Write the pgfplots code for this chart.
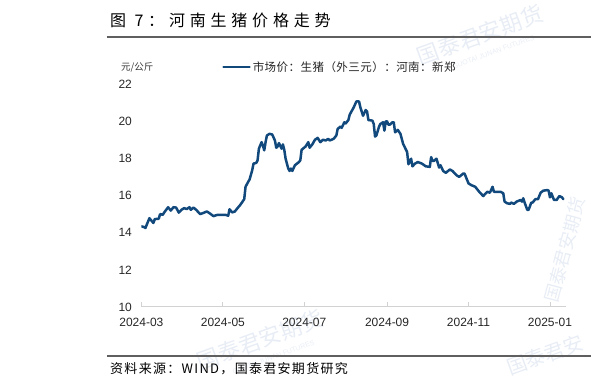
\documentclass[border=0pt]{standalone}
\usepackage{pgfplots}
\pgfplotsset{compat=1.18}
\usepackage{fontspec}
\setmainfont{Liberation Sans}
\newfontfamily\cjk{Noto Sans CJK SC}
\newfontfamily\cjktitle[LetterSpace=30]{Noto Sans CJK SC}
\newfontfamily\cjksrc[LetterSpace=10]{Noto Sans CJK SC}
\newfontfamily\cjkleg[LetterSpace=4]{Noto Sans CJK SC}
\definecolor{lineblue}{RGB}{18,73,125}
\definecolor{axisgray}{RGB}{210,210,210}
\definecolor{rulegray}{RGB}{95,95,95}
\definecolor{wmark}{RGB}{232,237,245}
\begin{document}
\begin{tikzpicture}
% axis south-west corner is the origin; picture pixel (px,py) -> (px-141.4, 307-py)
\useasboundingbox (-141.4pt,-78pt) rectangle (452.6pt,307pt);
% faint watermarks
\begin{scope}[every node/.style={text=wmark, inner sep=0}]
\node[rotate=20] at (338.6pt,272pt) {\cjk\fontsize{22}{24}\selectfont 国泰君安期货};
\node[rotate=20] at (352pt,255pt) {\fontsize{7}{8}\selectfont GUOTAI JUNAN FUTURES};
\node[rotate=20] at (118.6pt,-33pt) {\cjk\fontsize{22}{24}\selectfont 国泰君安期货};
\node[rotate=20] at (132pt,-50pt) {\fontsize{7}{8}\selectfont GUOTAI JUNAN FUTURES};
\node[rotate=75] at (423.6pt,57pt) {\cjk\fontsize{18}{20}\selectfont 国泰君安期货};
\node[rotate=20] at (403.6pt,-48pt) {\cjk\fontsize{20}{22}\selectfont 国泰君安};
\end{scope}
\draw[rulegray, line width=2pt] (-34.4pt,270pt) -- (449.6pt,270pt);
\draw[rulegray, line width=2pt] (-34.4pt,-49pt) -- (449.6pt,-49pt);
\node[anchor=west, inner sep=0] at (-31.4pt,287pt) {\cjktitle\fontsize{16}{18}\selectfont 图 7：河南生猪价格走势};
\node[anchor=west, inner sep=0] at (-31.4pt,-62pt) {\cjksrc\fontsize{13}{15}\selectfont 资料来源：WIND，国泰君安期货研究};
\node[anchor=west, inner sep=0, text=black!80] at (-20.4pt,240pt) {\cjk\fontsize{9.5}{11}\selectfont 元/公斤};
\begin{axis}[
  scale only axis, width=424.6pt, height=223pt,
  xmin=0, xmax=318, ymin=10, ymax=22,
  ytick={10,12,...,22},
  xtick={0,61,122,184,245,306},
  xticklabels={2024-03,2024-05,2024-07,2024-09,2024-11,2025-01},
  axis x line*=bottom, axis y line*=left,
  y axis line style={draw=none},
  x axis line style={axisgray, line width=1pt},
  ytick style={draw=none},
  xtick style={axisgray, line width=0.8pt},
  tick align=inside, major tick length=5pt,
  /pgf/number format/assume math mode=true,
  tick label style={font=\fontsize{12}{14}\selectfont, text=black!85},
  yticklabel style={xshift=-6pt},
  xticklabel style={yshift=-8pt},
  legend style={at={(0.19,1.076)}, anchor=west, draw=none, fill=none, inner sep=0pt,
    font=\cjkleg\fontsize{11.5}{13}\selectfont, text=black!85},
  legend cell align=left,
  legend image code/.code={\draw[#1] (0pt,0pt) -- (26pt,0pt);},
]
\addplot[lineblue, line width=2.5pt, line join=round, line cap=round] coordinates {
(0,14.34)(2,14.30)(3,14.25)(6,14.78)(7,14.69)(9,14.52)(10,14.73)(13,14.75)(14,15.00)(16,14.96)(17,15.08)(20,15.37)(22,15.19)(24,15.37)(26,15.35)(28,15.08)(30,15.23)(32,15.32)(34,15.27)(36,15.37)(37,15.23)(39,15.35)(41,15.23)(44,15.00)(46,15.05)(49,15.14)(51,15.05)(54,14.89)(57,14.96)(63,14.96)(65,14.91)(66,15.26)(68,15.09)(70,15.14)(72,15.32)(74,15.49)(77,15.80)(78,16.47)(80,16.74)(81,16.86)(83,17.36)(84,17.72)(86,17.75)(87,17.89)(88,18.52)(90,18.87)(91,18.69)(92,18.43)(93,18.87)(94,19.23)(96,19.32)(98,19.28)(100,18.96)(101,18.57)(102,18.64)(103,18.82)(105,18.52)(106,18.75)(107,18.46)(108,17.98)(110,17.45)(111,17.32)(112,17.45)(113,17.32)(115,17.63)(118,17.80)(119,17.89)(120,18.46)(123,18.64)(125,18.87)(126,18.57)(128,18.75)(130,19.00)(132,19.10)(134,18.87)(136,19.00)(138,18.96)(140,19.05)(141,18.96)(144,19.05)(146,19.23)(147,19.58)(149,19.71)(150,19.64)(152,19.94)(153,19.88)(155,20.06)(156,20.35)(159,20.74)(161,21.06)(163,21.06)(164,20.74)(166,20.29)(168,20.60)(169,20.52)(170,20.06)(173,20.03)(174,19.85)(175,19.17)(176,19.23)(178,19.71)(179,19.85)(181,19.94)(182,19.49)(183,19.99)(184,19.99)(185,19.81)(186,19.81)(188,19.94)(189,19.94)(190,19.40)(192,19.53)(194,19.32)(196,18.78)(199,18.34)(200,17.68)(202,17.98)(203,17.57)(205,17.72)(207,17.80)(210,17.72)(213,17.57)(216,17.54)(217,18.07)(218,17.86)(219,17.86)(221,17.98)(223,17.50)(224,17.63)(226,17.32)(228,17.22)(231,17.40)(233,17.32)(236,17.09)(238,17.00)(241,17.18)(242,17.18)(245,16.65)(247,16.56)(250,16.47)(253,16.20)(256,15.97)(259,16.20)(261,16.15)(263,16.47)(264,16.20)(266,16.20)(269,16.20)(271,16.12)(272,15.67)(274,15.58)(276,15.55)(277,15.62)(279,15.55)(281,15.67)(284,15.76)(285,15.67)(286,15.85)(287,15.62)(289,15.23)(290,15.23)(292,15.62)(293,15.62)(295,15.80)(297,15.80)(299,16.15)(301,16.26)(304,16.29)(305,16.26)(306,15.90)(307,16.12)(309,15.76)(311,15.76)(313,15.97)(315,15.90)(316,15.80)
};
\addlegendentry{市场价：生猪（外三元）：河南：新郑}
\end{axis}
\end{tikzpicture}
\end{document}
